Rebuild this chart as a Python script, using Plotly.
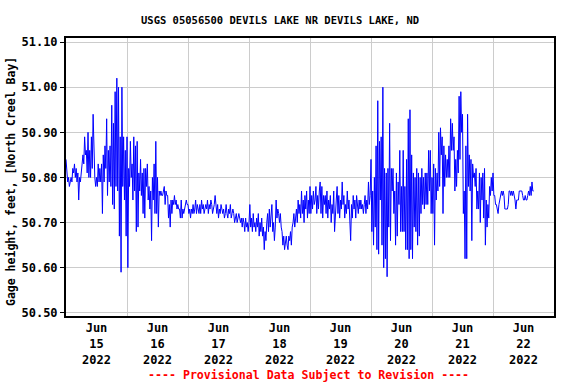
import pandas as pd
import plotly.graph_objects as go

# Gage height (feet), 20-minute readings estimated from the reference chart
jun15 = [50.84, 50.82, 50.79, 50.80, 50.78, 50.79, 50.80, 50.79, 50.82, 50.81,
         50.83, 50.80, 50.82, 50.79, 50.81, 50.75, 50.80, 50.79, 50.82, 50.83,
         50.85, 50.83, 50.89, 50.85, 50.86, 50.81, 50.90, 50.80, 50.86, 50.80,
         50.89, 50.82, 50.94, 50.84, 50.80, 50.78, 50.80, 50.78, 50.83, 50.79,
         50.82, 50.79, 50.83, 50.72, 50.85, 50.79, 50.87, 50.82, 50.93, 50.76,
         50.86, 50.79, 50.87, 50.78, 50.96, 50.74, 50.92, 50.73, 50.99, 50.78,
         51.02, 50.77, 51.00, 50.67, 50.89, 50.59, 51.00, 50.78, 50.89, 50.75,
         50.86, 50.67]
jun16 = [50.89, 50.60, 50.82, 50.78, 50.88, 50.80, 50.83, 50.75, 50.89, 50.77,
         50.87, 50.68, 50.88, 50.69, 50.81, 50.77, 50.84, 50.76, 50.81, 50.72,
         50.82, 50.71, 50.82, 50.78, 50.83, 50.75, 50.78, 50.73, 50.77, 50.66,
         50.80, 50.75, 50.83, 50.72, 50.88, 50.72, 50.80, 50.69, 50.77, 50.76,
         50.77, 50.76, 50.76, 50.77, 50.78, 50.74, 50.77, 50.76, 50.76, 50.71,
         50.74, 50.69, 50.75, 50.72, 50.75, 50.74, 50.76, 50.74, 50.75, 50.73,
         50.74, 50.73, 50.73, 50.71, 50.75, 50.71, 50.73, 50.72, 50.73, 50.74,
         50.75, 50.74]
jun17 = [50.74, 50.72, 50.73, 50.71, 50.73, 50.72, 50.74, 50.72, 50.73, 50.75,
         50.72, 50.74, 50.73, 50.72, 50.74, 50.72, 50.75, 50.73, 50.74, 50.72,
         50.73, 50.74, 50.73, 50.75, 50.72, 50.74, 50.73, 50.75, 50.74, 50.72,
         50.73, 50.74, 50.76, 50.73, 50.72, 50.74, 50.71, 50.73, 50.72, 50.74,
         50.73, 50.72, 50.73, 50.71, 50.72, 50.74, 50.72, 50.71, 50.73, 50.72,
         50.74, 50.71, 50.72, 50.73, 50.72, 50.70, 50.71, 50.72, 50.70, 50.71,
         50.72, 50.71, 50.70, 50.71, 50.69, 50.71, 50.70, 50.68, 50.71, 50.69,
         50.70, 50.68]
jun18 = [50.70, 50.74, 50.69, 50.71, 50.68, 50.72, 50.69, 50.70, 50.68, 50.71,
         50.69, 50.72, 50.67, 50.70, 50.68, 50.71, 50.67, 50.69, 50.64, 50.68,
         50.66, 50.70, 50.72, 50.68, 50.73, 50.69, 50.71, 50.74, 50.68, 50.70,
         50.66, 50.69, 50.75, 50.71, 50.73, 50.72, 50.70, 50.72, 50.69, 50.68,
         50.65, 50.67, 50.64, 50.66, 50.67, 50.65, 50.64, 50.67, 50.66, 50.68,
         50.65, 50.69, 50.70, 50.72, 50.69, 50.71, 50.73, 50.70, 50.75, 50.72,
         50.74, 50.71, 50.77, 50.72, 50.75, 50.70, 50.76, 50.73, 50.77, 50.71,
         50.75, 50.72]
jun19 = [50.78, 50.72, 50.76, 50.73, 50.77, 50.74, 50.75, 50.78, 50.72, 50.76,
         50.73, 50.77, 50.79, 50.72, 50.78, 50.71, 50.76, 50.74, 50.76, 50.72,
         50.77, 50.71, 50.75, 50.73, 50.76, 50.70, 50.74, 50.72, 50.77, 50.68,
         50.73, 50.75, 50.78, 50.72, 50.76, 50.71, 50.75, 50.73, 50.79, 50.74,
         50.76, 50.71, 50.74, 50.72, 50.77, 50.73, 50.75, 50.71, 50.66, 50.74,
         50.71, 50.76, 50.73, 50.75, 50.71, 50.76, 50.74, 50.72, 50.75, 50.73,
         50.75, 50.73, 50.74, 50.72, 50.74, 50.76, 50.72, 50.75, 50.73, 50.79,
         50.74, 50.76]
jun20 = [50.84, 50.68, 50.77, 50.65, 50.80, 50.69, 50.87, 50.64, 50.97, 50.63,
         50.88, 50.75, 50.89, 50.65, 51.00, 50.60, 50.82, 50.62, 50.81, 50.58,
         50.82, 50.69, 50.92, 50.66, 50.82, 50.77, 50.82, 50.72, 50.77, 50.65,
         50.81, 50.67, 50.79, 50.74, 50.86, 50.68, 50.78, 50.68, 50.86, 50.68,
         50.78, 50.64, 50.84, 50.64, 50.93, 50.62, 50.95, 50.64, 50.85, 50.62,
         50.81, 50.69, 50.80, 50.68, 50.82, 50.65, 50.81, 50.67, 50.80, 50.72,
         50.82, 50.74, 50.80, 50.73, 50.81, 50.74, 50.81, 50.74, 50.86, 50.77,
         50.86, 50.72]
jun21 = [50.80, 50.72, 50.83, 50.65, 50.82, 50.75, 50.81, 50.77, 50.90, 50.78,
         50.91, 50.85, 50.89, 50.72, 50.87, 50.78, 50.85, 50.80, 50.84, 50.80,
         50.87, 50.80, 50.93, 50.86, 50.92, 50.86, 50.89, 50.77, 50.84, 50.78,
         50.86, 50.81, 50.98, 50.84, 50.99, 50.90, 50.94, 50.72, 50.77, 50.62,
         50.87, 50.62, 50.94, 50.78, 50.85, 50.77, 50.84, 50.66, 50.83, 50.80,
         50.81, 50.78, 50.82, 50.73, 50.77, 50.73, 50.81, 50.70, 50.80, 50.75,
         50.81, 50.71, 50.82, 50.65, 50.75, 50.69, 50.74, 50.71, 50.78, 50.76,
         50.80, 50.77]
jun22 = [50.81, 50.76, 50.76, 50.74, 50.74, 50.73, 50.72, 50.74, 50.75, 50.76,
         50.77, 50.76, 50.77, 50.76, 50.73, 50.73, 50.73, 50.73, 50.74, 50.77,
         50.77, 50.76, 50.77, 50.76, 50.77, 50.76, 50.75, 50.73, 50.75, 50.75,
         50.75, 50.77, 50.77, 50.77, 50.77, 50.76, 50.75, 50.75, 50.76, 50.75,
         50.75, 50.76, 50.77, 50.76, 50.78, 50.76, 50.79, 50.77, 50.77]

values = jun15 + jun16 + jun17 + jun18 + jun19 + jun20 + jun21 + jun22
times = pd.date_range("2022-06-15 00:00", periods=len(values), freq="20min")

title_text = "USGS 05056500 DEVILS LAKE NR DEVILS LAKE, ND"
ytitle_text = "Gage height, feet, [North Creel Bay]"
note_text = "---- Provisional Data Subject to Revision ----"

FONT = "DejaVu Sans Mono"
L, R, T, B = 66, 554, 38, 316
PW, PH = R - L, B - T


def px(xp):
    return (xp - L) / PW


def py(yp):
    return (B - yp) / PH


fig = go.Figure(go.Scatter(x=times, y=values, mode="lines",
                           line=dict(color="#0000ff", width=1),
                           hoverinfo="skip"))

fig.update_layout(
    width=576, height=384,
    margin=dict(l=L, r=576 - R, t=T, b=384 - B, autoexpand=False),
    paper_bgcolor="white", plot_bgcolor="white",
    showlegend=False,
    font=dict(family=FONT, size=12, color="black", weight="bold"),
)

fig.update_xaxes(
    type="date", automargin=False,
    range=["2022-06-15 00:00", "2022-06-23 00:00"],
    tick0="2022-06-15", dtick=86400000,
    ticklabelmode="period", tickformat="%b<br>%d<br>%Y",
    ticks="", showgrid=True, gridcolor="#cccccc", gridwidth=1,
    showline=True, linecolor="black", linewidth=2, mirror=True,
    tickfont=dict(family=FONT, size=12, color="black", weight="bold"),
)
fig.update_yaxes(
    automargin=False,
    range=[50.493, 51.109], tick0=50.5, dtick=0.1, tickformat=".2f",
    ticks="outside", ticklen=4, tickcolor="black",
    showgrid=True, gridcolor="#cccccc", gridwidth=1, zeroline=False,
    showline=True, linecolor="black", linewidth=2, mirror=True,
    tickfont=dict(family=FONT, size=12, color="black", weight="bold"),
)

fig.add_annotation(text=title_text, showarrow=False,
                   xref="paper", yref="paper",
                   x=px(280), y=py(20), xanchor="center", yanchor="middle",
                   font=dict(family=FONT, size=10.5, color="black", weight="bold"))
fig.add_annotation(text=ytitle_text, textangle=-90, showarrow=False,
                   xref="paper", yref="paper",
                   x=px(11), y=py(182),
                   xanchor="center", yanchor="middle",
                   font=dict(family=FONT, size=11.5, color="black", weight="bold"))
fig.add_annotation(text=note_text, showarrow=False,
                   xref="paper", yref="paper",
                   x=px(308), y=py(375),
                   xanchor="center", yanchor="middle",
                   font=dict(family=FONT, size=11.6, color="#ff0000", weight="bold"))

fig.write_html("out.html",
               config={"displayModeBar": False, "staticPlot": True},
               post_script="document.body.style.margin='0';"
                           "document.body.style.overflow='hidden';")
